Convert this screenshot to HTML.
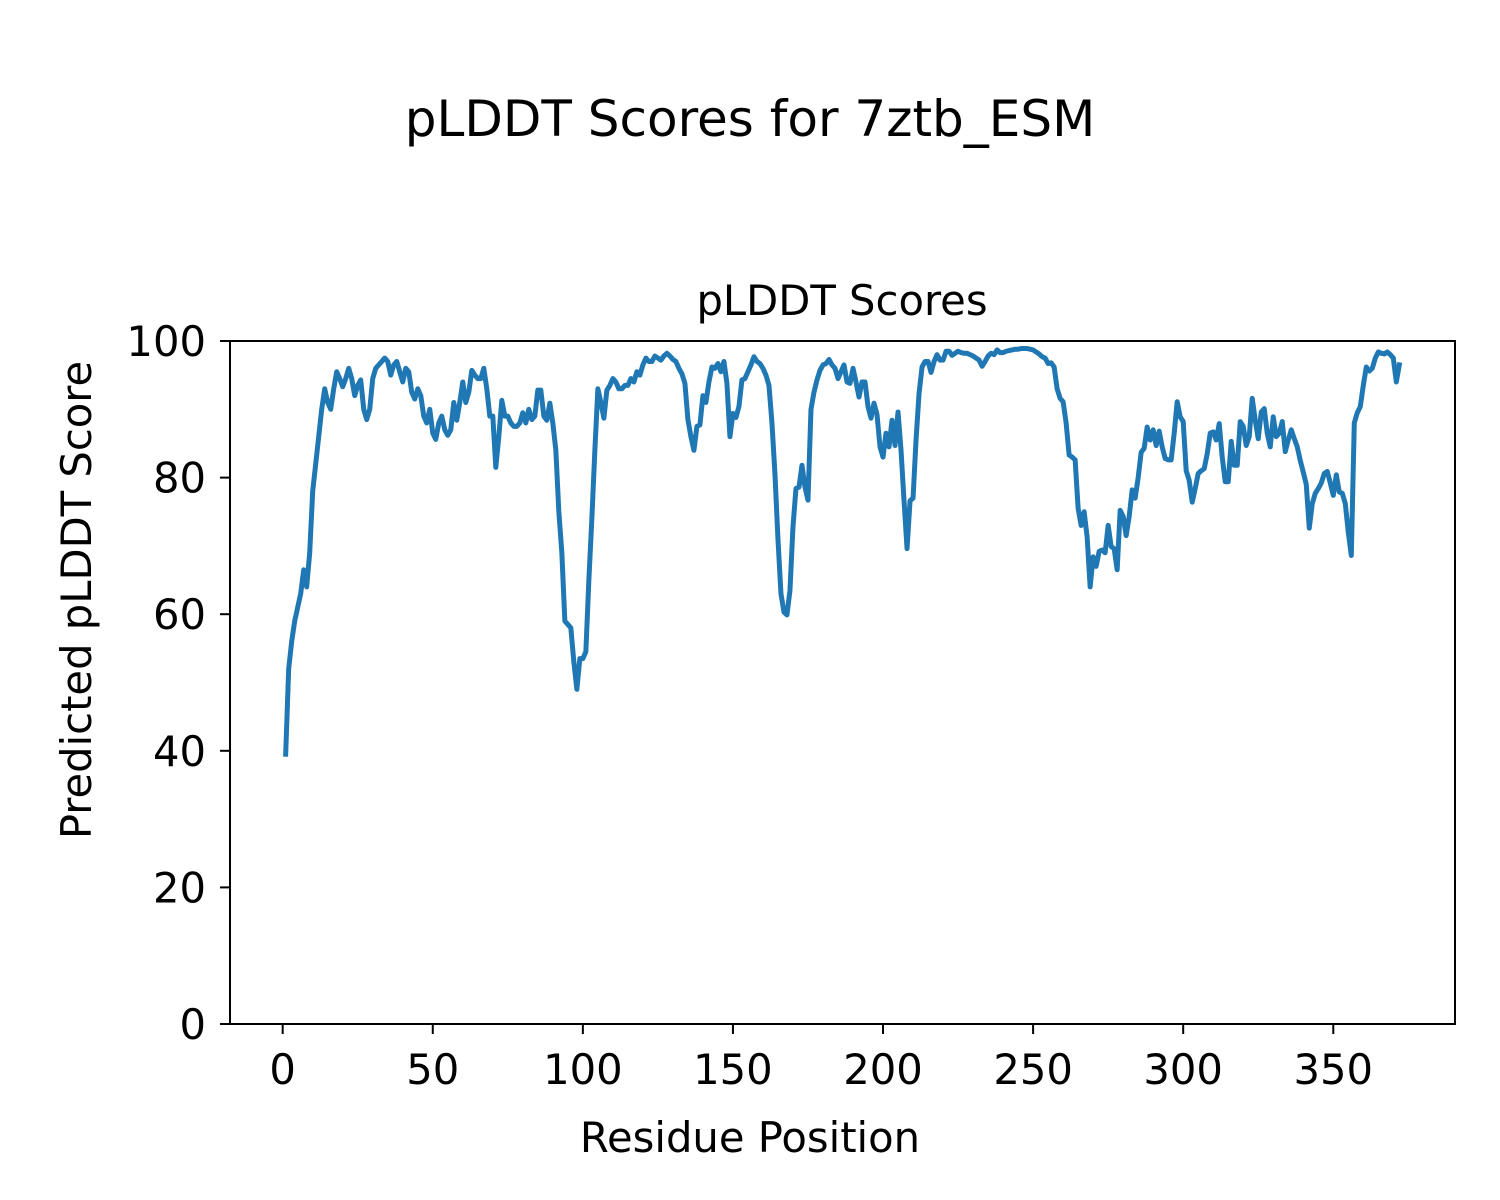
<!DOCTYPE html>
<html>
<head>
<meta charset="utf-8">
<style>
  html,body{margin:0;padding:0;background:#fff;}
  svg{display:block;font-family:"DejaVu Sans","Liberation Sans",sans-serif;}
</style>
</head>
<body>
<svg id="chart" width="1500" height="1200" viewBox="0 0 1500 1200" xmlns="http://www.w3.org/2000/svg">
  <rect width="1500" height="1200" fill="#fff"/>
  <text x="750" y="136" text-anchor="middle" font-size="50" fill="#000">pLDDT Scores for 7ztb_ESM</text>
  <text x="842" y="315" text-anchor="middle" font-size="41.7" fill="#000">pLDDT Scores</text>
  <text x="750" y="1152" text-anchor="middle" font-size="41.7" fill="#000">Residue Position</text>
  <text x="0" y="0" transform="translate(91,600) rotate(-90)" text-anchor="middle" font-size="41.7" fill="#000">Predicted pLDDT Score</text>
  <g id="ticks"></g>
  <path id="series" fill="none" stroke="#1f77b4" stroke-width="5" stroke-linejoin="round" stroke-linecap="square"/>
  <rect x="230" y="341" width="1225" height="683" fill="none" stroke="#000" stroke-width="2"/>
</svg>
<script>
const scores = [39.5,52,56,59,61,63,66.5,64,69,78,82,86,90,93,91,90,93,95.5,94.5,93.3,
94.5,96,94.5,92,93.5,94.3,90,88.5,90,94.5,96,96.5,97,97.5,97,95,96.5,97,95.5,94,
96,95.5,92.5,91.5,93,92,89,88,90,86.5,85.6,88,89,87,86.2,87,91,88.4,91,94,
91,92.5,95.7,95,94.5,94.5,96,93,89,89,81.5,86,91.3,89,89,88,87.5,87.5,88,89.5,
88,90,88.5,89,92.8,92.8,89,88.4,90.9,88,84,75,69,59,58.5,58,53,49,53.5,53.5,
54.5,65,74,84,93,91,88.7,92.8,93.5,94.5,94,93,93,93.5,93.5,94.5,94,95.5,95,96.5,
97.5,97,97,97.8,97.5,97.2,97.8,98.2,97.8,97.3,97,96,95.2,93.8,88.5,86,84,87.5,87.7,92,
91,94,96.2,96,96.7,95.5,97,93.8,86,89.4,88.8,90.4,94.3,94.5,95.5,96.5,97.7,97,96.7,96,
95,93.5,88,80.5,71,63,60.3,59.9,63.5,72.8,78.4,78.6,81.8,78.6,76.7,90,92.5,94.3,95.7,96.5,
96.7,97.3,96.5,96,94.5,95.5,96.5,94,93.8,96,94,91.8,94,94,90.4,88.7,90.9,89.2,84.5,83,
86.5,84.5,88.4,84.7,89.6,84,76.6,69.6,76.6,77,85.5,92.3,96.2,97,97,95.4,97,98,97.2,97.2,
98.5,98.5,97.9,98.2,98.5,98.3,98.2,98.2,98,97.8,97.5,97.2,96.3,97,97.8,98.2,98,98.7,98.3,98.3,
98.5,98.6,98.7,98.8,98.8,98.9,98.9,98.9,98.8,98.7,98.4,98.1,97.7,97.5,96.7,96.8,96.2,93,91.6,91.1,
88,83.3,83,82.6,75.5,73,75,71.3,64,68.4,67,69.2,69.4,69,73,69.9,69.6,66.5,75.2,74.3,
71.5,74.3,78.2,77,80,83.7,84.3,87.4,85.5,87,84.7,86.8,84.5,82.8,82.6,82.6,86.5,91.1,88.9,88.2,
81,79.6,76.4,78.4,80.6,81,81.3,83.5,86.5,86.7,85.5,87.9,83,79.4,79.4,85.3,81.8,81.8,88.2,87.5,
84.7,86,91.6,88.4,85.7,89.6,90.1,86.5,84.5,88.9,86,86.5,88.2,83.8,85.5,87,85.7,84.5,82.5,80.8,
79,72.6,76.2,77.7,78.4,79.2,80.6,80.9,79.2,77.4,80.4,77.9,77.7,76.2,72,68.6,88,89.5,90.4,93.5,
96.2,95.6,96,97.5,98.4,98.2,98.1,98.4,98,97.5,94,96.5];
const residues = scores.map((_, i) => i + 1);
const xTicks = [0, 50, 100, 150, 200, 250, 300, 350];
const yTicks = [0, 20, 40, 60, 80, 100];

const PL = 230, PR = 1455, PT = 341, PB = 1024;
const xMin = residues[0], xMax = residues[residues.length - 1];
const xPad = (xMax - xMin) * 0.05;
function xs(v){ return PL + (v - (xMin - xPad)) / ((xMax + xPad) - (xMin - xPad)) * (PR - PL); }
function ys(v){ return PB - (v - 0) / (100 - 0) * (PB - PT); }

const NS = "http://www.w3.org/2000/svg";
const g = document.getElementById('ticks');
xTicks.forEach(t => {
  const x = xs(t);
  const ln = document.createElementNS(NS, 'line');
  ln.setAttribute('x1', x); ln.setAttribute('x2', x);
  ln.setAttribute('y1', PB); ln.setAttribute('y2', PB + 10);
  ln.setAttribute('stroke', '#000'); ln.setAttribute('stroke-width', '2');
  
  
  g.appendChild(ln);
  const tx = document.createElementNS(NS, 'text');
  tx.setAttribute('x', x); tx.setAttribute('y', PB + 60);
  tx.setAttribute('text-anchor', 'middle'); tx.setAttribute('font-size', '41.7');
  tx.textContent = t;
  
  
  g.appendChild(tx);
});
yTicks.forEach(t => {
  const y = ys(t);
  const ln = document.createElementNS(NS, 'line');
  ln.setAttribute('x1', PL - 10); ln.setAttribute('x2', PL);
  ln.setAttribute('y1', y); ln.setAttribute('y2', y);
  ln.setAttribute('stroke', '#000'); ln.setAttribute('stroke-width', '2');
  
  
  g.appendChild(ln);
  const tx = document.createElementNS(NS, 'text');
  tx.setAttribute('x', PL - 24); tx.setAttribute('y', y + 15);
  tx.setAttribute('text-anchor', 'end'); tx.setAttribute('font-size', '41.7');
  tx.textContent = t;
  
  
  g.appendChild(tx);
});
const d = residues.map((r, i) => (i ? 'L' : 'M') + xs(r).toFixed(2) + ' ' + ys(scores[i]).toFixed(2)).join(' ');
document.getElementById('series').setAttribute('d', d);
</script>
</body>
</html>
